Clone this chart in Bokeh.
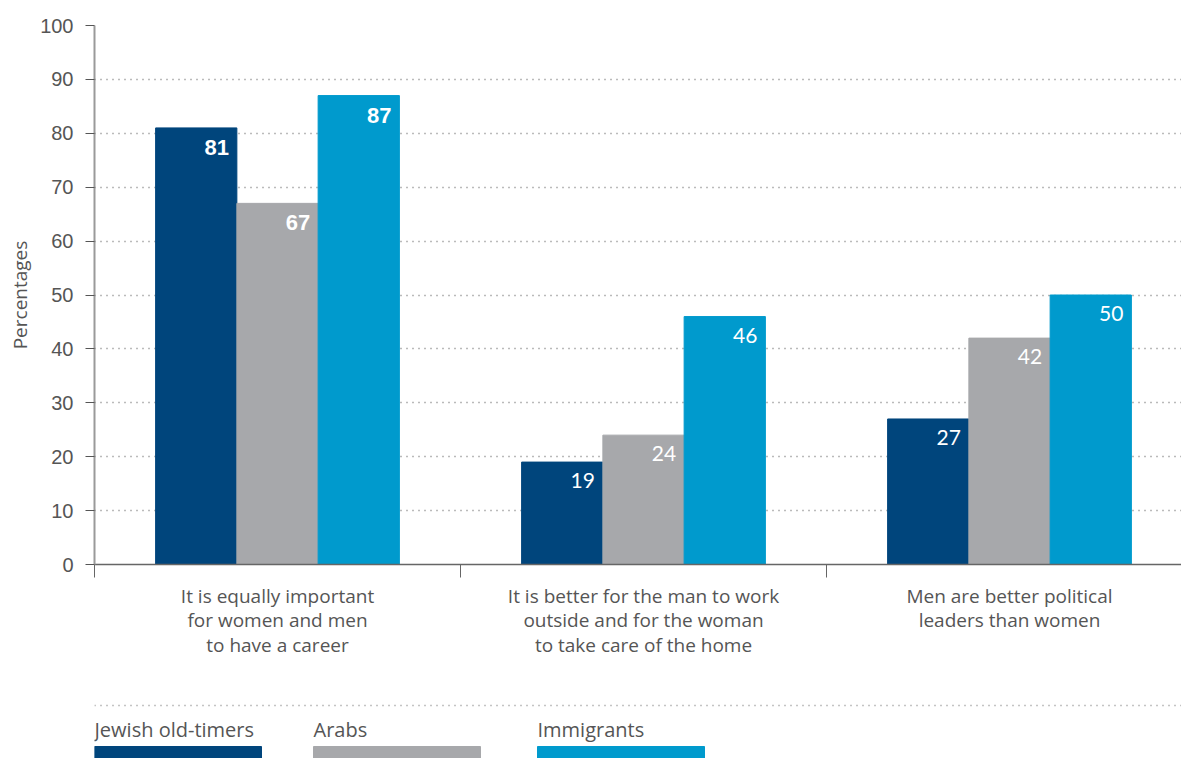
from bokeh.plotting import figure
from bokeh.models import ColumnDataSource, FixedTicker, Range1d, Label
from bokeh.layouts import column
from bokeh.embed import file_html
from bokeh.resources import INLINE
from bokeh.core.properties import value

categories = [
    "It is equally important\nfor women and men\nto have a career",
    "It is better for the man to work\noutside and for the woman\nto take care of the home",
    "Men are better political\nleaders than women",
]
series = ["Jewish old-timers", "Arabs", "Immigrants"]
jewish = [81, 19, 27]
arabs = [67, 24, 42]
immigrants = [87, 46, 50]
colors = ["#00457C", "#A7A8AB", "#009ACD"]
y_ticks = [0, 10, 20, 30, 40, 50, 60, 70, 80, 90, 100]

TEXT = "#555555"
FRAME_W = 1181 - 94
X_END = FRAME_W / 366.0

p = figure(width=1181, height=690, output_backend="svg", toolbar_location=None,
           x_range=Range1d(0, X_END), y_range=Range1d(0, 100),
           min_border_left=94, min_border_right=0, min_border_top=25, min_border_bottom=126)
p.outline_line_color = None
p.background_fill_color = "white"
p.border_fill_color = "white"

bw = 0.222
offsets = [-bw, 0.0, bw]
vals = [jewish, arabs, immigrants]
for i, (name, v, c) in enumerate(zip(series, vals, colors)):
    xs = [g + 0.5 + offsets[i] for g in range(len(categories))]
    src = ColumnDataSource(dict(x=xs, top=v, xr=[x + bw / 2 for x in xs]))
    p.vbar(x="x", top="top", width=bw, color=c, source=src)
    for g in range(len(categories)):
        bold = g == 0
        lbl = Label(x=src.data["xr"][g], y=v[g], text=str(v[g]),
                    text_align="right", text_baseline="top",
                    x_offset=-8, y_offset=-12 if bold else -11,
                    text_color="white", text_font_size="22px" if bold else "21px",
                    text_font="Liberation Sans" if bold else "Lato",
                    text_font_style="bold" if bold else "normal")
        p.add_layout(lbl)

# grid
p.xgrid.grid_line_color = None
p.ygrid.ticker = FixedTicker(ticks=y_ticks[1:])
p.ygrid.grid_line_color = "#777777"
p.ygrid.grid_line_dash = "1 5"
p.ygrid.grid_line_width = 1.3

# y axis
p.yaxis.ticker = FixedTicker(ticks=y_ticks)
p.yaxis.axis_line_color = "#9a9a9a"
p.yaxis.axis_line_width = 2
p.yaxis.major_tick_line_color = "#555555"
p.yaxis.major_tick_out = 9
p.yaxis.major_tick_in = 0
p.yaxis.minor_tick_line_color = None
p.yaxis.major_label_standoff = 12
p.yaxis.major_label_text_font = "Liberation Sans"
p.yaxis.major_label_text_font_size = "20px"
p.yaxis.major_label_text_color = TEXT
p.yaxis.axis_label = "Percentages"
p.yaxis.axis_label_text_font = "Open Sans"
p.yaxis.axis_label_text_font_style = "normal"
p.yaxis.axis_label_text_font_size = "19px"
p.yaxis.axis_label_text_color = TEXT
p.yaxis.axis_label_standoff = 4

# x axis
p.xaxis.ticker = FixedTicker(ticks=[g + 0.5 for g in range(len(categories))],
                             minor_ticks=[0, 1, 2, 3])
p.xaxis.major_label_overrides = {g + 0.5: c for g, c in enumerate(categories)}
p.xaxis.axis_line_color = "#666666"
p.xaxis.axis_line_width = 1.5
p.xaxis.major_tick_line_color = None
p.xaxis.minor_tick_line_color = "#666666"
p.xaxis.minor_tick_out = 13
p.xaxis.minor_tick_in = 0
p.xaxis.major_label_standoff = 5
p.xaxis.major_label_text_font = "Open Sans"
p.xaxis.major_label_text_font_size = "19px"
p.xaxis.major_label_text_color = TEXT
p.xaxis.major_label_text_line_height = 0.95

# legend figure (frame aligned with the main frame, so x range starts at 94 px)
lg = figure(width=1181, height=68, output_backend="svg", toolbar_location=None,
            x_range=Range1d(94, 1181), y_range=Range1d(0, 68),
            min_border=0, min_border_left=94)
lg.outline_line_color = None
lg.axis.visible = False
lg.grid.visible = False
lg.segment(x0=[94], y0=[53], x1=[1181], y1=[53], line_color="#888888",
           line_dash="1 5", line_width=1.3)
leg_x = [94, 313, 537]
leg_src = ColumnDataSource(dict(x=leg_x, r=[x + 167 for x in leg_x], name=series, color=colors))
lg.quad(left="x", right="r", bottom=0, top=12, color="color", source=leg_src)
lg.text(x="x", y=29, text="name", source=leg_src, text_font=value("Open Sans"),
        text_font_size="20px", text_color=TEXT, text_baseline="middle", text_align="left")

layout = column(p, lg, spacing=0)
open("out.html", "w").write(file_html(layout, INLINE))
